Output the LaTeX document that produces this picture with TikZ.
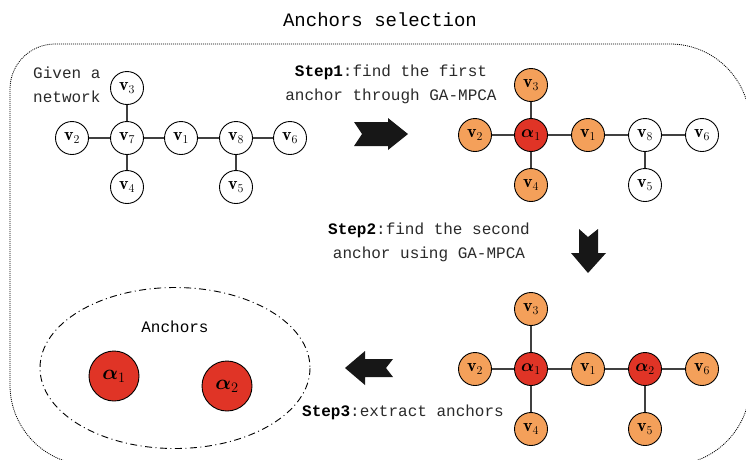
\documentclass[tikz,border=0pt]{standalone}
\usepackage{fontspec}
\setmonofont{Liberation Mono}
\usepackage{amsmath,bm}
\definecolor{vorange}{HTML}{F4A05A}
\definecolor{vred}{HTML}{E03426}
\definecolor{blockfill}{HTML}{171717}
\definecolor{txtgray}{HTML}{2A2A2A}
\tikzset{
  vtx/.style={circle, draw=black, line width=0.9pt, minimum size=33pt, inner sep=0pt,
              font=\fontsize{18}{18}\selectfont},
  plainv/.style={vtx, fill=white},
  nbrv/.style={vtx, fill=vorange},
  ancv/.style={vtx, fill=vred},
  bigv/.style={circle, draw=black, line width=0.9pt, fill=vred, minimum size=50pt,
               inner sep=0pt, font=\fontsize{21}{21}\selectfont},
  edge/.style={draw=black!75, line width=1.1pt},
  label/.style={font=\fontsize{16}{24}\selectfont\ttfamily, text=txtgray, align=center,
                inner sep=0pt},
  blockarrow/.style={fill=blockfill, draw=none},
}
\begin{document}
\begin{tikzpicture}[x=1pt, y=-1pt]
\useasboundingbox (0,0) rectangle (746,459);
\clip (0,0) rectangle (746,459);

% title
\node[label, font=\fontsize{19}{19}\selectfont\ttfamily, text=black] (title) at (380,20) {Anchors selection};

% dotted frame
\draw[line width=0.8pt, dash pattern=on 1pt off 1pt]
  (55,44) -- (670,44) arc (-90:0:80) -- (750,385) arc (0:90:80)
  -- (90,465) arc (90:180:80) -- (10,89) arc (180:270:45) -- cycle;

% given network
\node[label, align=left, anchor=west] (given) at (33,85) {Given a\\network};
\node[plainv] (a3) at (127,88)  {$\mathbf{v}_3$};
\node[plainv] (a2) at (72,138)  {$\mathbf{v}_2$};
\node[plainv] (a7) at (127,138) {$\mathbf{v}_7$};
\node[plainv] (a1) at (181,138) {$\mathbf{v}_1$};
\node[plainv] (a8) at (236,138) {$\mathbf{v}_8$};
\node[plainv] (a6) at (290,138) {$\mathbf{v}_6$};
\node[plainv] (a4) at (127,187) {$\mathbf{v}_4$};
\node[plainv] (a5) at (236,187) {$\mathbf{v}_5$};
\draw[edge] (a3) -- (a7);
\draw[edge] (a2) -- (a7);
\draw[edge] (a7) -- (a1);
\draw[edge] (a1) -- (a8);
\draw[edge] (a8) -- (a6);
\draw[edge] (a7) -- (a4);
\draw[edge] (a8) -- (a5);

% step 1
\node[label] (step1) at (391,84) {\textbf{\textcolor{black}{Step1}}:find the first\\anchor through GA-MPCA};
\fill[blockarrow] (354,122) -- (388,122) -- (388,118) -- (408,134) -- (388,150)
  -- (388,146) -- (354,146) -- (362,134) -- cycle;

% network after first anchor
\node[nbrv]   (b3)  at (531,85)  {$\mathbf{v}_3$};
\node[nbrv]   (b2)  at (475,135) {$\mathbf{v}_2$};
\node[ancv]   (ba1) at (531,135) {$\bm{\alpha}_1$};
\node[nbrv]   (b1)  at (588,135) {$\mathbf{v}_1$};
\node[plainv] (b8)  at (645,135) {$\mathbf{v}_8$};
\node[plainv] (b6)  at (702,135) {$\mathbf{v}_6$};
\node[nbrv]   (b4)  at (531,185) {$\mathbf{v}_4$};
\node[plainv] (b5)  at (645,185) {$\mathbf{v}_5$};
\draw[edge] (b3) -- (ba1);
\draw[edge] (b2) -- (ba1);
\draw[edge] (ba1) -- (b1);
\draw[edge] (b1) -- (b8);
\draw[edge] (b8) -- (b6);
\draw[edge] (ba1) -- (b4);
\draw[edge] (b8) -- (b5);

% step 2
\node[label] (step2) at (429,242) {\textbf{\textcolor{black}{Step2}}:find the second\\anchor using GA-MPCA};
\fill[blockarrow] (579,229) -- (588,237) -- (598,229) -- (598,253) -- (606,253)
  -- (588,273) -- (571,253) -- (579,253) -- cycle;

% network after second anchor
\node[nbrv] (c3)  at (531,309) {$\mathbf{v}_3$};
\node[nbrv] (c2)  at (475,369) {$\mathbf{v}_2$};
\node[ancv] (ca1) at (531,369) {$\bm{\alpha}_1$};
\node[nbrv] (c1)  at (588,369) {$\mathbf{v}_1$};
\node[ancv] (ca2) at (645,369) {$\bm{\alpha}_2$};
\node[nbrv] (c6)  at (702,369) {$\mathbf{v}_6$};
\node[nbrv] (c4)  at (531,429) {$\mathbf{v}_4$};
\node[nbrv] (c5)  at (645,429) {$\mathbf{v}_5$};
\draw[edge] (c3) -- (ca1);
\draw[edge] (c2) -- (ca1);
\draw[edge] (ca1) -- (c1);
\draw[edge] (c1) -- (ca2);
\draw[edge] (ca2) -- (c6);
\draw[edge] (ca1) -- (c4);
\draw[edge] (ca2) -- (c5);

% step 3
\node[label] (step3) at (403,412) {\textbf{\textcolor{black}{Step3}}:extract anchors};
\fill[blockarrow] (345,368) -- (365,351) -- (365,359) -- (393,359) -- (386,368)
  -- (393,377) -- (365,377) -- (365,385) -- cycle;

% extracted anchors
\draw[line width=0.9pt, dash pattern=on 7pt off 3.5pt on 1pt off 3.5pt]
  (175,368) ellipse [x radius=135, y radius=80.5];
\node[label, text=black] (anchors) at (175,327) {Anchors};
\node[bigv] (e1) at (114,376) {$\bm{\alpha}_1$};
\node[bigv] (e2) at (227,386) {$\bm{\alpha}_2$};
\end{tikzpicture}
\end{document}
